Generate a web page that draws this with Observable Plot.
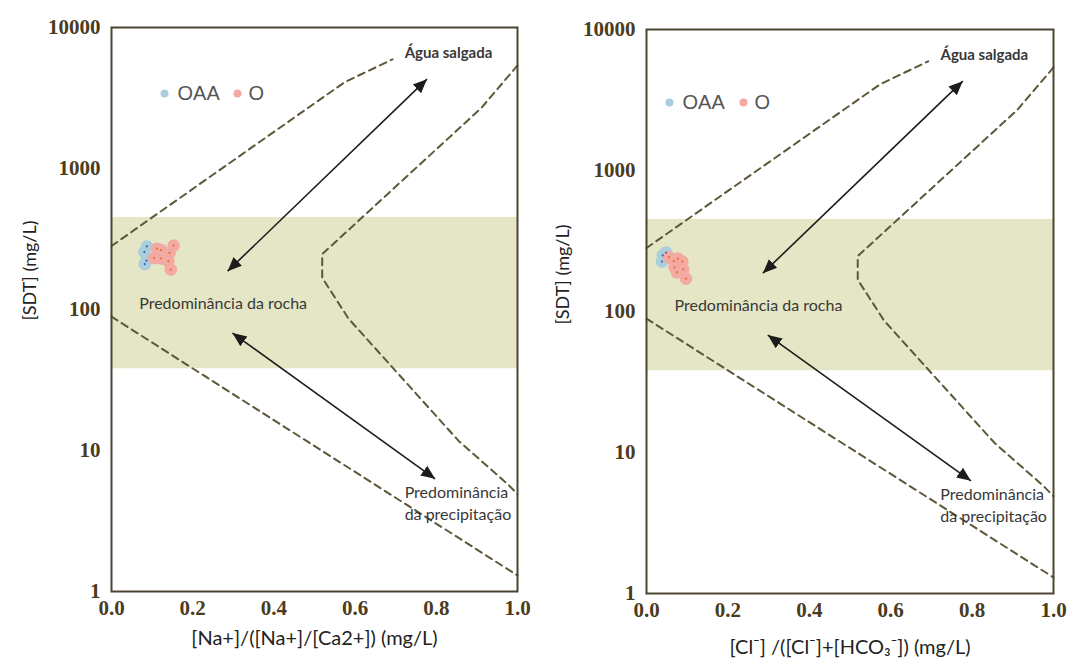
<!DOCTYPE html>
<html>
<head>
<meta charset="utf-8">
<script src="https://cdn.jsdelivr.net/npm/d3@7"></script>
<script src="https://cdn.jsdelivr.net/npm/@observablehq/plot@0.6"></script>
<style>
  html, body { margin: 0; padding: 0; background: #ffffff; }
  #wrap { display: flex; width: 1069px; height: 662px; overflow: hidden; }
  #wrap svg { display: block; }
</style>
</head>
<body>
<div id="wrap"></div>
<script>
// ---------- data ----------
const xTicks = [0, 0.2, 0.4, 0.6, 0.8, 1.0];
const yTicks = [1, 10, 100, 1000, 10000];
const seriesNames = ["OAA", "O"];

// rock-dominance band (SDT, mg/L)
const rockBand = [{lo: 38, hi: 450}];

// Gibbs boundary curves (x ratio, SDT mg/L)
const upperBoundary = [
  {x: 0.000, y: 282}, {x: 0.573, y: 4070}, {x: 0.692, y: 5950}
];
const innerBoundary = [
  {x: 1.000, y: 5380}, {x: 0.911, y: 2690}, {x: 0.519, y: 247},
  {x: 0.519, y: 168}, {x: 0.584, y: 86}, {x: 0.855, y: 11.7},
  {x: 0.975, y: 5.8}, {x: 1.000, y: 4.9}
];
const lowerBoundary = [
  {x: 0.000, y: 89}, {x: 1.000, y: 1.3}
];

// double-headed arrows
const arrows = [
  {x1: 0.286, y1: 187, x2: 0.777, y2: 4300},
  {x1: 0.298, y1: 68, x2: 0.797, y2: 6.3}
];

// annotation texts (x ratio, SDT)
const saltNote = [{x: 0.83, y: 6550, text: "Água salgada"}];
const rockNote = [{x: 0.275, y: 109, text: "Predominância da rocha"}];
const rainNote = [
  {x: 0.722, y: 5.0, text: "Predominância"},
  {x: 0.722, y: 3.5, text: "da precipitação"}
];

// samples, Na+/(Na+ + Ca2+) panel
const naOAA = [
  {x: 0.087, y: 280}, {x: 0.081, y: 256}, {x: 0.086, y: 222}, {x: 0.082, y: 210}
];
const naO = [
  {x: 0.153, y: 284}, {x: 0.122, y: 264}, {x: 0.143, y: 252}, {x: 0.105, y: 232},
  {x: 0.122, y: 230}, {x: 0.140, y: 220}, {x: 0.146, y: 192}, {x: 0.112, y: 270}
];
// samples, Cl-/(Cl- + HCO3-) panel
const clOAA = [
  {x: 0.040, y: 250}, {x: 0.038, y: 226}, {x: 0.048, y: 262}
];
const clO = [
  {x: 0.055, y: 243}, {x: 0.067, y: 228}, {x: 0.088, y: 226}, {x: 0.077, y: 237},
  {x: 0.069, y: 206}, {x: 0.090, y: 199}, {x: 0.075, y: 190}, {x: 0.097, y: 171}
];

const yLabel = "[SDT] (mg/L)";
const xLabelNa = "[Na+]/([Na+]/[Ca2+]) (mg/L)";
const xLabelCl = "[Cl\u207B] /([Cl\u207B]+[HCO\u2083\u207B]) (mg/L)";

// ---------- styles ----------
const C = {
  band: "#e5e6c5",
  curve: "#5e5738",
  frame: "#4a4430",
  tick: "#4b3c1e",
  arrow: "#1c1c1c",
  blueHalo: "#a9cfdd",
  pinkHalo: "#f2aaa2",
  blueCore: "#4363b0",
  pinkCore: "#f06a2c",
  text: "#383838"
};
const sans = "Lato, 'Open Sans', 'DejaVu Sans', sans-serif";
const serif = "'Liberation Serif', 'DejaVu Serif', serif";
const legendFont = "'Liberation Sans', Arial, sans-serif";

function filledHead(color, context) {
  const doc = (context && context.document) || document;
  const ns = "http://www.w3.org/2000/svg";
  const m = doc.createElementNS(ns, "marker");
  m.setAttribute("viewBox", "-10 -5 10 10");
  m.setAttribute("markerUnits", "userSpaceOnUse");
  m.setAttribute("markerWidth", "14");
  m.setAttribute("markerHeight", "14");
  m.setAttribute("refX", "0");
  m.setAttribute("refY", "0");
  m.setAttribute("orient", "auto-start-reverse");
  const p = doc.createElementNS(ns, "path");
  p.setAttribute("d", "M-10,-4.3L0,0L-10,4.3Z");
  p.setAttribute("fill", color);
  p.setAttribute("stroke", "none");
  m.appendChild(p);
  return m;
}

function panel(cfg) {
  const dash = {x: "x", y: "y", stroke: C.curve, strokeWidth: 2, strokeDasharray: "7,5", curve: "linear"};
  const legText = {frameAnchor: "top-left", dy: cfg.legY, textAnchor: "start", lineAnchor: "middle",
                   fontFamily: legendFont, fontSize: 20, fill: "#555"};
  return Plot.plot({
    width: cfg.width,
    height: 662,
    marginLeft: cfg.ml,
    marginRight: cfg.mr,
    marginTop: cfg.mt,
    marginBottom: cfg.mb,
    style: {background: "transparent", overflow: "visible"},
    x: {domain: [0, 1]},
    y: {type: "log", domain: [1, 10000]},
    marks: [
      Plot.rect(rockBand, {y1: "lo", y2: "hi", fill: C.band}),
      Plot.line(upperBoundary, dash),
      Plot.line(innerBoundary, dash),
      Plot.line(lowerBoundary, dash),
      Plot.link(arrows, {
        x1: "x1", y1: "y1", x2: "x2", y2: "y2",
        stroke: C.arrow, strokeWidth: 1.6,
        markerStart: filledHead, markerEnd: filledHead
      }),
      Plot.dot(cfg.oaa, {x: "x", y: "y", r: 6.3, fill: C.blueHalo}),
      Plot.dot(cfg.o, {x: "x", y: "y", r: 6.3, fill: C.pinkHalo}),
      Plot.dot(cfg.oaa, {x: "x", y: "y", r: 1.1, fill: C.blueCore}),
      Plot.dot(cfg.o, {x: "x", y: "y", r: 1.1, fill: C.pinkCore}),
      Plot.text(saltNote, {x: "x", y: "y", text: "text", fontFamily: sans, fontSize: 15, fontWeight: 700, fill: C.text}),
      Plot.text(rockNote, {x: "x", y: "y", text: "text", fontFamily: sans, fontSize: 16, fill: C.text}),
      Plot.text(rainNote, {x: "x", y: "y", text: "text", textAnchor: "start", fontFamily: sans, fontSize: 16, fill: C.text}),
      // legend
      Plot.dot([seriesNames[0]], {frameAnchor: "top-left", dx: cfg.leg[0], dy: cfg.legY, r: 4, fill: C.blueHalo}),
      Plot.text([seriesNames[0]], {...legText, dx: cfg.leg[1]}),
      Plot.dot([seriesNames[1]], {frameAnchor: "top-left", dx: cfg.leg[2], dy: cfg.legY, r: 4, fill: C.pinkHalo}),
      Plot.text([seriesNames[1]], {...legText, dx: cfg.leg[3]}),
      Plot.frame({stroke: C.frame, strokeWidth: 2}),
      Plot.axisX({
        ticks: xTicks, tickFormat: d3.format(".1f"), tickSize: 0, tickPadding: 9,
        label: null, fontFamily: serif, fontWeight: "bold", fontSize: 21, fill: C.tick
      }),
      Plot.axisY({
        ticks: yTicks, tickFormat: (d) => String(d), tickSize: 0, tickPadding: 11,
        label: null, fontFamily: serif, fontWeight: "bold", fontSize: 21, fill: C.tick
      }),
      Plot.text([yLabel], {frameAnchor: "left", rotate: -90, textAnchor: "middle", lineAnchor: "middle",
        dx: cfg.ylabDx, dy: cfg.ylabDy, fontFamily: sans, fontSize: 18, fill: "#222"}),
      Plot.text([cfg.xLabel], {frameAnchor: "bottom", textAnchor: "middle", lineAnchor: "middle",
        dy: cfg.xlabDy, fontFamily: sans, fontSize: 20, fill: "#222"})
    ]
  });
}

const wrap = document.getElementById("wrap");
wrap.appendChild(panel({
  width: 534, ml: 111, mr: 17, mt: 27, mb: 71,
  oaa: naOAA, o: naO, xLabel: xLabelNa,
  leg: [53, 66, 126, 137], legY: 66,
  ylabDx: -81, ylabDy: -39, xlabDy: 47
}));
wrap.appendChild(panel({
  width: 535, ml: 112, mr: 16, mt: 29, mb: 69,
  oaa: clOAA, o: clO, xLabel: xLabelCl,
  leg: [23, 36, 97, 108], legY: 73,
  ylabDx: -83, ylabDy: -37, xlabDy: 54
}));
</script>
</body>
</html>
